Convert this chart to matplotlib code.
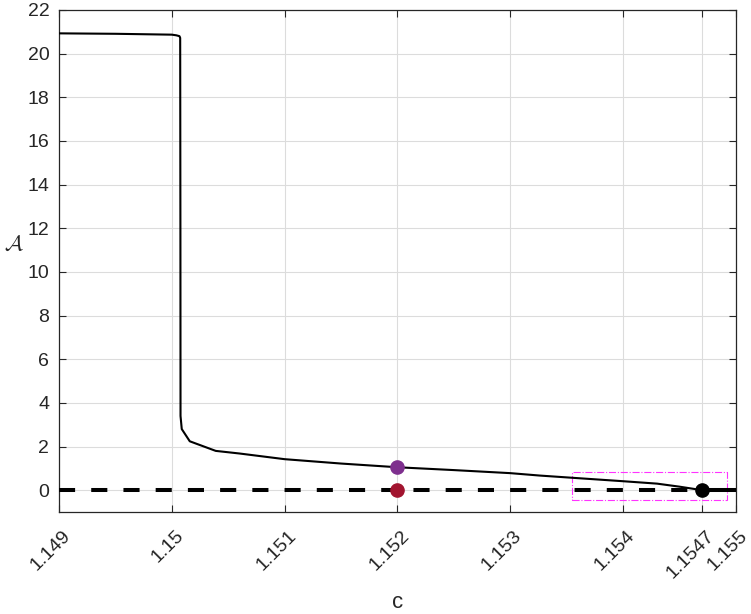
import numpy as np
import matplotlib
matplotlib.use("Agg")
import matplotlib.pyplot as plt
from matplotlib.patches import Rectangle
from matplotlib.transforms import ScaledTranslation

# branch values
c_branch = [1.149, 1.1495, 1.15, 1.15004, 1.150068, 1.150074, 1.150076, 1.150077,
            1.150088, 1.150159, 1.150389, 1.1506, 1.151, 1.1515, 1.152, 1.1525,
            1.153, 1.15326, 1.1536, 1.154, 1.1543, 1.15450, 1.1546, 1.1547]
A_branch = [20.93, 20.91, 20.87, 20.84, 20.80, 20.72, 12.0, 3.4,
            2.8, 2.24, 1.8, 1.68, 1.42, 1.22, 1.05, 0.92,
            0.78, 0.67, 0.55, 0.41, 0.30, 0.16, 0.08, 0.0]

c_zero_dash = [1.149, 1.1547]
c_zero_solid = [1.1547, 1.155]

c_pts = [1.152, 1.152, 1.1547]
A_pts = [1.05, 0.0, 0.0]
pt_colors = ['#7E2F8E', '#A2142F', '#000000']

box_c = [1.15355, 1.15492]
box_A = [-0.47, 0.81]

xticks = [1.149, 1.15, 1.151, 1.152, 1.153, 1.154, 1.1547, 1.155]
xtick_labels = ['1.149', '1.15', '1.151', '1.152', '1.153', '1.154', '1.1547', '1.155']
yticks = list(range(0, 23, 2))

plt.rcParams['font.family'] = ['Liberation Sans', 'DejaVu Sans']
plt.rcParams['mathtext.fontset'] = 'cm'
txt = '#262626'

fig = plt.figure(figsize=(7.51, 6.14), dpi=100)
ax = fig.add_axes([59/751, 1 - 512/614, (736 - 59)/751, (512 - 10)/614])

ax.plot(c_zero_dash, [0, 0], color='black', lw=2.9, dashes=(4, 4), zorder=3)
ax.plot(c_zero_solid, [0, 0], color='black', lw=2.9, zorder=3)
ax.plot(c_branch, A_branch, color='black', lw=1.5, zorder=4)

for c, a, col in zip(c_pts, A_pts, pt_colors):
    ax.plot(c, a, 'o', color=col, markersize=9.5, zorder=5)

ax.add_patch(Rectangle((box_c[0], box_A[0]), box_c[1] - box_c[0], box_A[1] - box_A[0],
                       fill=False, edgecolor='#FF33FF', lw=0.8, linestyle='-.', zorder=2))

ax.set_xlim(1.149, 1.155)
ax.set_ylim(-1, 22)
ax.set_xticks(xticks)
ax.set_xticklabels(xtick_labels, rotation=45, ha='right', va='top', rotation_mode='anchor')
ax.set_yticks(yticks)
ax.grid(True, color='#dcdcdc', lw=0.8)
ax.set_axisbelow(True)
ax.tick_params(direction='in', top=True, right=True, labelsize=14, colors=txt,
               length=5, width=0.8)
ax.tick_params(axis='x', pad=0)
ax.tick_params(axis='y', pad=7)
shift = ScaledTranslation(0.03, -0.15, fig.dpi_scale_trans)
for lab in ax.get_xticklabels():
    lab.set_transform(lab.get_transform() + shift)
for s in ax.spines.values():
    s.set_color(txt)
    s.set_linewidth(0.9)

ax.set_xlabel('c', fontsize=16, color=txt, va='center')
ax.xaxis.set_label_coords(0.5, -0.181)
ax.set_ylabel(r'$\mathcal{A}$', fontsize=16, color=txt, rotation=0, ha='center', va='center')
ax.yaxis.set_label_coords(-45/677, 0.532)

fig.savefig('out.png', dpi=100)
